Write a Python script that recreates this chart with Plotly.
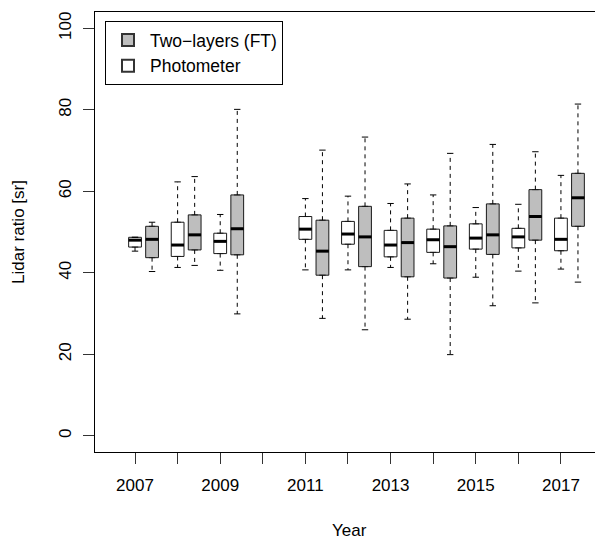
import plotly.graph_objects as go

# ---- data ----
years = [2007, 2008, 2009, 2011, 2012, 2013, 2014, 2015, 2016, 2017]

# Photometer (white boxes)
phot_lo  = [45.3, 41.3, 40.6, 40.7, 40.7, 41.3, 42.2, 38.9, 40.4, 40.9]
phot_q1  = [46.3, 44.0, 44.7, 48.2, 47.0, 43.9, 45.0, 45.8, 46.1, 45.4]
phot_med = [48.0, 46.8, 47.7, 50.7, 49.5, 46.8, 48.1, 48.5, 48.8, 48.2]
phot_q3  = [48.7, 52.4, 49.7, 53.8, 52.6, 50.4, 50.7, 52.0, 50.9, 53.4]
phot_hi  = [48.7, 62.3, 54.3, 58.2, 58.8, 57.0, 59.1, 56.0, 56.8, 63.9]

# Two-layers (FT) (grey boxes)
two_lo  = [40.3, 41.8, 29.9, 28.8, 26.0, 28.6, 19.9, 31.9, 32.6, 37.7]
two_q1  = [43.7, 45.6, 44.4, 39.4, 41.5, 39.0, 38.7, 44.5, 48.0, 51.4]
two_med = [48.2, 49.3, 50.8, 45.3, 48.8, 47.4, 46.4, 49.3, 53.8, 58.4]
two_q3  = [51.4, 54.2, 59.1, 52.9, 56.3, 53.4, 51.5, 56.9, 60.4, 64.4]
two_hi  = [52.4, 63.6, 80.1, 70.1, 73.3, 61.8, 69.3, 71.5, 69.7, 81.4]

x_ticks = list(range(2007, 2018))
x_ticktext = [str(y) if (y - 2007) % 2 == 0 else "" for y in x_ticks]
y_ticks = [0, 20, 40, 60, 80, 100]

series_names = ["Two\u2212layers (FT)", "Photometer"]
GREY = "#BEBEBE"
FONT = "Liberation Sans, Arial, Helvetica, sans-serif"
FS = 17

BOX_W = 0.3
OFFSET_TWO = 0.4

fig = go.Figure()


def add_series(pos, lo, q1, med, q3, hi, fill):
    fig.add_trace(go.Box(
        x=pos, q1=q1, median=med, q3=q3, lowerfence=q1, upperfence=q3,
        width=BOX_W, fillcolor=fill, line=dict(color="#1a1a1a", width=1),
        boxpoints=False, showlegend=False, hoverinfo="skip",
    ))


def add_lines(pos, lo, q1, med, q3, hi):
    wx, wy, cx, cy, mx, my = [], [], [], [], [], []
    for p, a, b, m, c, d in zip(pos, lo, q1, med, q3, hi):
        wx += [p, p, None, p, p, None]
        wy += [c, d, None, b, a, None]
        cx += [p - BOX_W / 4, p + BOX_W / 4, None, p - BOX_W / 4, p + BOX_W / 4, None]
        cy += [d, d, None, a, a, None]
        mx += [p - BOX_W / 2, p + BOX_W / 2, None]
        my += [m, m, None]
    fig.add_trace(go.Scatter(x=wx, y=wy, mode="lines", showlegend=False, hoverinfo="skip",
                             line=dict(color="black", width=1, dash="4px,4px")))
    fig.add_trace(go.Scatter(x=cx, y=cy, mode="lines", showlegend=False, hoverinfo="skip",
                             line=dict(color="black", width=1)))
    fig.add_trace(go.Scatter(x=mx, y=my, mode="lines", showlegend=False, hoverinfo="skip",
                             line=dict(color="black", width=3)))


pos_phot = list(years)
pos_two = [y + OFFSET_TWO for y in years]

add_series(pos_phot, phot_lo, phot_q1, phot_med, phot_q3, phot_hi, "white")
add_series(pos_two, two_lo, two_q1, two_med, two_q3, two_hi, GREY)
add_lines(pos_phot, phot_lo, phot_q1, phot_med, phot_q3, phot_hi)
add_lines(pos_two, two_lo, two_q1, two_med, two_q3, two_hi)

# legend entries
fig.add_trace(go.Scatter(x=[None], y=[None], mode="markers", name=series_names[0],
                         marker=dict(symbol="square", size=9, color=GREY,
                                     line=dict(color="#333", width=1))))
fig.add_trace(go.Scatter(x=[None], y=[None], mode="markers", name=series_names[1],
                         marker=dict(symbol="square", size=9, color="white",
                                     line=dict(color="#333", width=1))))

fig.update_layout(
    width=595, height=540,
    margin=dict(l=95, r=0, t=12, b=88),
    paper_bgcolor="white", plot_bgcolor="white",
    font=dict(family=FONT, size=FS, color="black"),
    boxmode="overlay",
    showlegend=True,
    legend=dict(x=0.02, y=0.9795, xanchor="left", yanchor="top",
                bordercolor="black", borderwidth=1, bgcolor="white",
                font=dict(size=17.5), traceorder="normal",
                tracegroupgap=0, itemsizing="constant", itemwidth=34),
    xaxis=dict(range=[2006.06, 2017.80], tickmode="array", tickvals=x_ticks,
               ticktext=x_ticktext, ticks="outside", ticklen=11, tickcolor="#333",
               showline=True, linecolor="black", linewidth=1, mirror=True,
               showgrid=False, zeroline=False, tickfont=dict(size=FS),
               ticklabelstandoff=7),
    yaxis=dict(range=[-4, 104], tickmode="array", tickvals=y_ticks,
               ticks="outside", ticklen=11, tickcolor="#333", tickangle=-90,
               showline=True, linecolor="black", linewidth=1, mirror=False,
               showgrid=False, zeroline=False, tickfont=dict(size=FS),
               ticklabelstandoff=5),
    annotations=[
        dict(text="Year", xref="paper", yref="paper", x=0.508, y=-0.1795,
             xanchor="center", yanchor="middle", showarrow=False,
             font=dict(size=FS)),
        dict(text="Lidar ratio [sr]", xref="paper", yref="paper", x=-0.154, y=0.5,
             xanchor="center", yanchor="middle", showarrow=False, textangle=-90,
             font=dict(size=FS)),
    ],
)

fig.write_html("out.html", config={"displayModeBar": False},
               post_script="document.body.style.margin='0';")
